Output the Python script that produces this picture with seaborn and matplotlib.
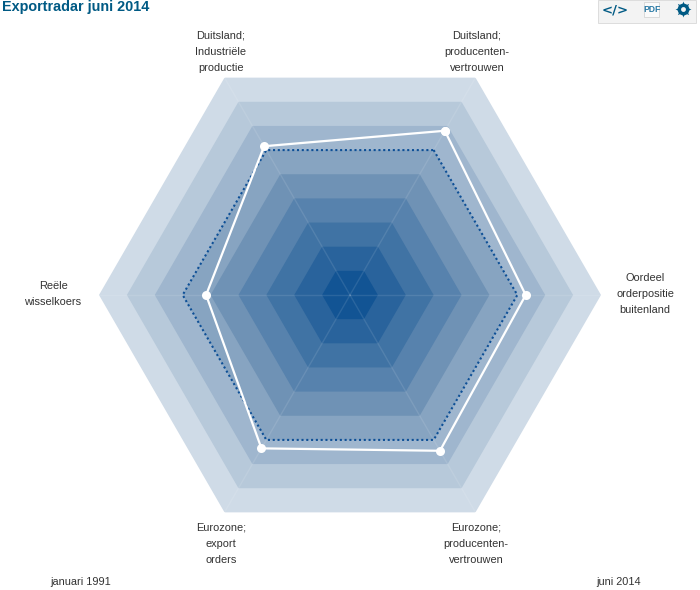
# exportradar juni 2014
import numpy as np
import pandas as pd
import matplotlib
matplotlib.use("Agg")
import matplotlib.pyplot as plt
from matplotlib.lines import Line2D
from matplotlib.patches import Rectangle
import seaborn as sns

categorieen = ["Duitsland; producenten-vertrouwen", "Oordeel orderpositie buitenland",
               "Eurozone; producenten-vertrouwen", "Eurozone; export orders",
               "Reële wisselkoers", "Duitsland; Industriële productie"]
hoeken = [60, 0, -60, -120, 180, 120]
exportradar = [6.8, 6.3, 6.45, 6.35, 5.16, 6.16]
gemiddelde = [6, 6, 6, 6, 6, 6]
ringen = [9, 8, 7, 6, 5, 4, 3, 2, 1]

labels = ["Duitsland;\nproducenten-\nvertrouwen", "Oordeel\norderpositie\nbuitenland",
          "Eurozone;\nproducenten-\nvertrouwen", "Eurozone;\nexport\norders",
          "Reële\nwisselkoers", "Duitsland;\nIndustriële\nproductie"]
label_pos = [(477, 52), (645, 294), (476, 544), (221, 544), (53, 294), (221, 52)]

W, H = 700, 590
CX, CY, R = 350, 295, 251

sns.set_theme(style="white")
plt.rcParams["font.family"] = ["Liberation Sans", "DejaVu Sans"]

df = pd.DataFrame({"categorie": categorieen + categorieen[:1],
                   "hoek": np.deg2rad(hoeken + hoeken[:1]),
                   "export": exportradar + exportradar[:1],
                   "gem": gemiddelde + gemiddelde[:1]})

fig = plt.figure(figsize=(W / 100, H / 100), dpi=100, facecolor="white")
ax = fig.add_axes([(CX - R) / W, (H - CY - R) / H, 2 * R / W, 2 * R / H], projection="polar")

# ringen van licht naar donker
kleuren = sns.blend_palette(["#cfdbe7", "#6f92b5", "#125494"], len(ringen))
for r, kleur in zip(ringen, kleuren):
    ax.fill(df["hoek"], [r] * len(df), color=kleur, lw=0, zorder=1)
# spaken
for h in df["hoek"][:-1]:
    ax.plot([h, h], [0, 9], color="white", alpha=0.1, lw=1, zorder=2)

sns.lineplot(data=df, x="hoek", y="gem", sort=False, estimator=None, color="#0d4f96",
             lw=1.5, linestyle=(0, (1, 1.3)), ax=ax, zorder=3)
sns.lineplot(data=df, x="hoek", y="export", sort=False, estimator=None, color="white",
             lw=1.6, marker="o", markersize=6.5, markeredgewidth=0, ax=ax, zorder=4)
ax.set_ylim(0, 9)
ax.set_axis_off()


def px(x, y):
    return x / W, 1 - y / H


for tekst, (x, y) in zip(labels, label_pos):
    fig.text(*px(x, y), tekst, ha="center", va="center", fontsize=7.9, color="#333333",
             linespacing=1.78)

fig.text(*px(2, 6.5), "Exportradar juni 2014", ha="left", va="center", fontsize=10.4,
         fontweight="bold", color="#005a84")
fig.text(*px(80.5, 582), "januari 1991", ha="center", va="center", fontsize=7.9, color="#333333")
fig.text(*px(619, 582), "juni 2014", ha="center", va="center", fontsize=7.9, color="#333333")

# knoppenbalk rechtsboven
fig.add_artist(Rectangle((598 / W, 1 - 23 / H), 98 / W, 23 / H, transform=fig.transFigure,
                         fc="#f3f3f3", ec="#dddddd", lw=0.7))
fig.add_artist(Rectangle((644 / W, 1 - 17 / H), 15 / W, 15 / H, transform=fig.transFigure,
                         fc="#fafafa", ec="#d5d5d5", lw=0.6))
fig.text(*px(615, 10), "</>", ha="center", va="center", fontsize=9.5, fontweight="bold",
         color="#005a84", family="DejaVu Sans")
fig.text(*px(652, 10), "PDF", ha="center", va="center", fontsize=6.2, fontweight="bold",
         color="#2a7aa5")
# tandwiel
for marker, maat, kleur in [((8, 1, 0), 11.5, "#005a84"), ("o", 8.5, "#005a84"), ("o", 3.5, "#f3f3f3")]:
    fig.add_artist(Line2D([683 / W], [1 - 9 / H], marker=marker, markersize=maat,
                          markerfacecolor=kleur, markeredgewidth=0, transform=fig.transFigure))

fig.savefig("out.png", dpi=100)
